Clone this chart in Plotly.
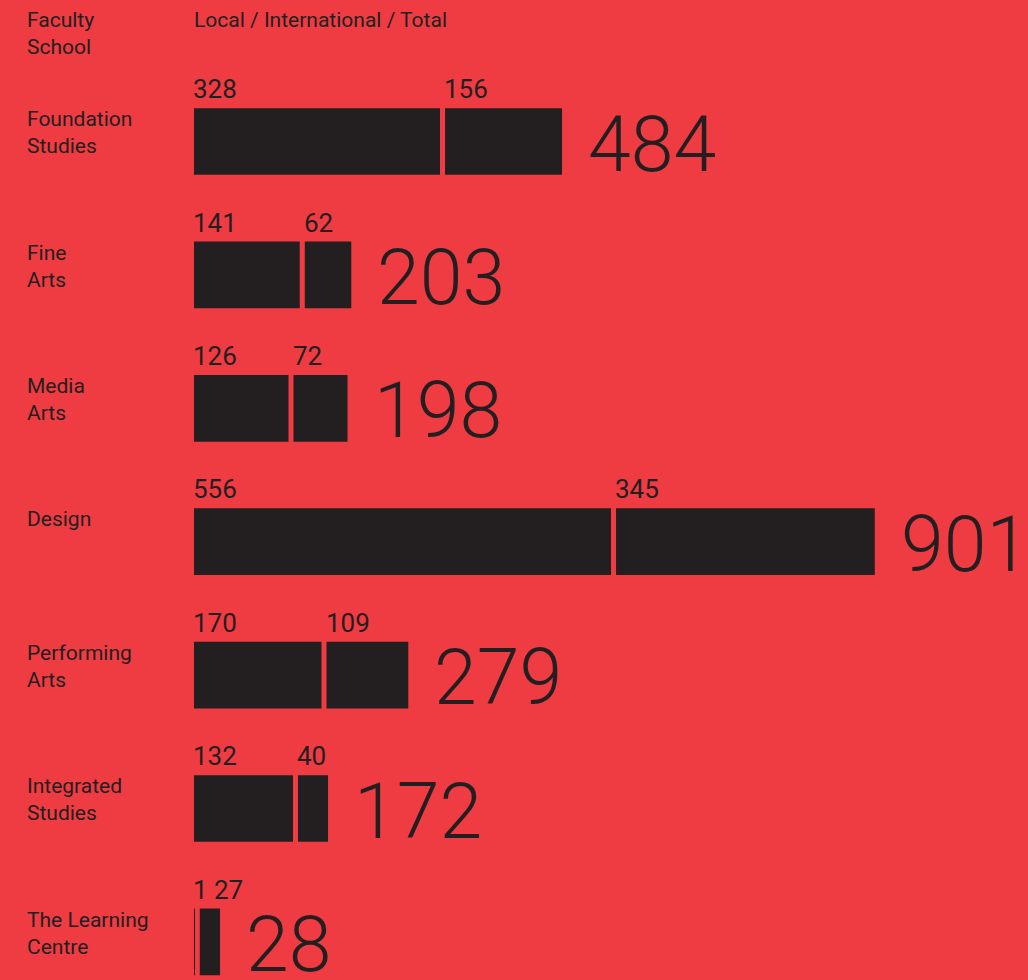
import plotly.graph_objects as go

schools = ["Foundation<br>Studies", "Fine<br>Arts", "Media<br>Arts", "Design",
           "Performing<br>Arts", "Integrated<br>Studies", "The Learning<br>Centre"]
local = [328, 141, 126, 556, 170, 132, 1]
international = [156, 62, 72, 345, 109, 40, 27]
totals = [484, 203, 198, 901, 279, 172, 28]

BG = "#EE3C42"
INK = "#231F20"
FONT = "Roboto"
GAP = 6.7  # visual gap between the two segments, in data units

W, H = 1028, 980
PX_PER_UNIT = 0.75
X0 = 194

ypos = list(range(len(schools)))
intl_base = [l + GAP for l in local]
ends = [b + i for b, i in zip(intl_base, international)]

fig = go.Figure()
fig.add_trace(go.Bar(y=ypos, x=local, base=0, orientation="h", width=0.5,
                     marker=dict(color=INK, line=dict(width=0)), hoverinfo="skip"))
fig.add_trace(go.Bar(y=ypos, x=international, base=intl_base, orientation="h", width=0.5,
                     marker=dict(color=INK, line=dict(width=0)), hoverinfo="skip"))

ann = []
for i, (s, l, it, t, b, e) in enumerate(zip(schools, local, international, totals, intl_base, ends)):
    ann.append(dict(x=25 / W, xref="paper", y=i - 0.25, yref="y", text=s, showarrow=False,
                    xanchor="left", yanchor="top", align="left", yshift=3,
                    font=dict(family=FONT, size=21, color=INK)))
    ann.append(dict(x=0, xref="x", y=i - 0.25, yref="y", text=str(l), showarrow=False,
                    xanchor="left", yanchor="bottom", yshift=2, xshift=-3,
                    font=dict(family=FONT, size=26, color=INK)))
    # keep the international label clear of the local label when the local bar is tiny
    base_px = b * PX_PER_UNIT
    min_px = len(str(l)) * 14 + 7
    extra = max(0, min_px - base_px)
    ann.append(dict(x=b, xref="x", y=i - 0.25, yref="y", text=str(it), showarrow=False,
                    xanchor="left", yanchor="bottom", yshift=2, xshift=-3 + extra,
                    font=dict(family=FONT, size=26, color=INK)))
    ann.append(dict(x=e, xref="x", y=i, yref="y", text=str(t), showarrow=False,
                    xanchor="left", yanchor="middle", xshift=24, yshift=-3,
                    font=dict(family=FONT, size=77, color=INK, weight=300)))

ann.append(dict(x=25 / W, xref="paper", y=1 - 6 / H, yref="paper", text="Faculty<br>School",
                showarrow=False, xanchor="left", yanchor="top", align="left",
                font=dict(family=FONT, size=21, color=INK)))
ann.append(dict(x=(X0 - 2) / W, xref="paper", y=1 - 6 / H, yref="paper",
                text="Local / International / Total",
                showarrow=False, xanchor="left", yanchor="top", align="left",
                font=dict(family=FONT, size=21, color=INK)))

plot_w = W - X0
top_px, step = 141.5, 133.4
y_top = -top_px / step
y_bot = (H - top_px) / step

fig.update_layout(
    width=W, height=H, barmode="overlay", showlegend=False,
    paper_bgcolor=BG, plot_bgcolor=BG,
    margin=dict(l=0, r=0, t=0, b=0),
    xaxis=dict(domain=[X0 / W, 1], range=[0, plot_w / PX_PER_UNIT], visible=False, fixedrange=True),
    yaxis=dict(range=[y_bot, y_top], visible=False, fixedrange=True),
    annotations=ann,
)
fig.write_html("out.html", config=dict(displayModeBar=False),
               post_script="document.body.style.margin='0';document.body.style.background='" + BG + "';")
